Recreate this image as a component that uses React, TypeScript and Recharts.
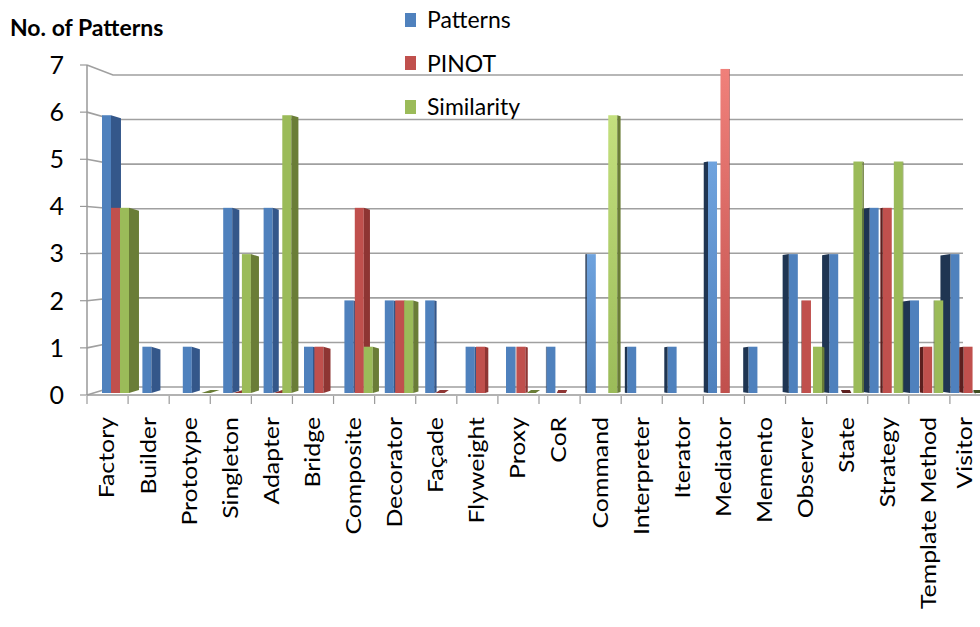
import React from 'react';
import { BarChart, Bar, XAxis, YAxis, CartesianGrid, Legend } from 'recharts';

const categories = [
  'Factory', 'Builder', 'Prototype', 'Singleton', 'Adapter', 'Bridge', 'Composite',
  'Decorator', 'Façade', 'Flyweight', 'Proxy', 'CoR', 'Command', 'Interpreter',
  'Iterator', 'Mediator', 'Memento', 'Observer', 'State', 'Strategy', 'Template Method', 'Visitor',
];
const patternsValues = [6, 1, 1, 4, 4, 1, 2, 2, 2, 1, 1, 1, 3, 1, 1, 5, 1, 3, 3, 4, 2, 3];
const pinotValues = [4, null, null, 0, 0, 1, 4, 2, 0, 1, 1, 0, null, null, null, 7, null, 2, 0, 4, 1, 1];
const similarityValues = [4, null, 0, 3, 6, null, 1, 2, null, null, 0, null, 6, null, null, null, null, 1, 5, 5, 2, 0];
const yTicks = [0, 1, 2, 3, 4, 5, 6, 7];
const seriesNames = ['Patterns', 'PINOT', 'Similarity'];

const data = categories.map((name, i) => ({
  name,
  Patterns: patternsValues[i],
  PINOT: pinotValues[i],
  Similarity: similarityValues[i],
}));

// layout / style constants
const CHART_W = 1010;
const CHART_H = 627;
const PLOT_LEFT = 87;
const PLOT_RIGHT = 991;
const PLOT_TOP = 65;
const PLOT_BOTTOM = 395;
const BACK_TOP = 75;
const BACK_BOTTOM = 387;
const GRID_START = 113;
const GRID_END = 963;
const LABEL_MAX_X = 964;
const BAND = (PLOT_RIGHT - PLOT_LEFT) / categories.length;
const FONT = "Lato, 'Open Sans', sans-serif";

const COLORS: Record<string, { front: string; sideR: string; sideL: string; hi: string }> = {
  Patterns: { front: '#4F81BD', sideR: '#34578A', sideL: '#1F3552', hi: '#6FA3DE' },
  PINOT: { front: '#C0504D', sideR: '#8E3533', sideL: '#5C1F1E', hi: '#F0807A' },
  Similarity: { front: '#9BBB59', sideR: '#6A7D37', sideL: '#3F4E21', hi: '#C4E07E' },
};
// categories drawn with a highlighted (lighter) face in the reference
const HIGHLIGHT = ['Command', 'Mediator'];

const makeShape = (key: string) => (props: any) => {
  const { x, y, width, height, index, payload } = props;
  const c = COLORS[key];
  const v = payload ? payload[key] : null;
  if (v == null || x == null || y == null) return <g />;
  const shift = 8 - 0.69 * index;
  const d = (10.5 - index) * 0.95;
  const x0 = x + shift;
  const w = width;
  const base = y + height;
  const bottom = base - 2;
  if (v === 0) {
    const pts = `${x0},${bottom} ${x0 + w},${bottom} ${x0 + w + d},${bottom - 3} ${x0 + d},${bottom - 3}`;
    return <polygon points={pts} fill={d > 0 ? c.sideR : c.sideL} />;
  }
  const h = height * 0.982;
  const top = bottom - h;
  const hl = HIGHLIGHT.includes(payload.name);
  const gid = `grad-${key}-${index}`;
  let side;
  if (d > 0) {
    const s = 0.3 * d;
    side = (
      <polygon
        points={`${x0 + w},${top} ${x0 + w + d},${top + s} ${x0 + w + d},${bottom - s} ${x0 + w},${bottom}`}
        fill={c.sideR}
      />
    );
  } else {
    const ad = -d;
    const s = 0.15 * ad;
    side = (
      <polygon
        points={`${x0},${top} ${x0 - ad},${top + s} ${x0 - ad},${bottom - s} ${x0},${bottom}`}
        fill={c.sideL}
      />
    );
  }
  return (
    <g>
      {hl && (
        <defs>
          <linearGradient id={gid} x1="0" y1="0" x2="0" y2="1">
            <stop offset="0%" stopColor={c.hi} />
            <stop offset="100%" stopColor={c.front} />
          </linearGradient>
        </defs>
      )}
      <rect x={x0} y={top} width={w} height={h} fill={hl ? `url(#${gid})` : c.front} />
      {side}
    </g>
  );
};

const gridLine = (p: any) => {
  const y1 = p.y1;
  const yb = BACK_BOTTOM - ((PLOT_BOTTOM - y1) * (BACK_BOTTOM - BACK_TOP)) / (PLOT_BOTTOM - PLOT_TOP);
  let d = `M${PLOT_LEFT},${y1} L${GRID_START},${yb} L${GRID_END},${yb}`;
  if (Math.abs(y1 - PLOT_BOTTOM) < 1) {
    d += ` L${GRID_END + 13},${yb + 6}`;
  }
  return <path key={`g-${p.index}`} d={d} stroke="#a0a0a0" strokeWidth={1.6} fill="none" />;
};

const XTick = (props: any) => {
  const { x, payload } = props;
  const tx = x - BAND / 2;
  const lx = Math.min(x - 1.5, LABEL_MAX_X);
  return (
    <g>
      <line x1={tx} y1={PLOT_BOTTOM + 1} x2={tx} y2={PLOT_BOTTOM + 9} stroke="#999" strokeWidth={1.2} />
      <text
        transform={`translate(${lx},${PLOT_BOTTOM + 22}) rotate(-90) scale(1.13,1)`}
        textAnchor="end"
        dominantBaseline="central"
        fontSize={22}
        fontFamily={FONT}
        fill="#000"
      >
        {payload.value}
      </text>
    </g>
  );
};

const renderLegend = () => (
  <div style={{ fontFamily: FONT }}>
    {seriesNames.map((name) => (
      <div key={name} style={{ display: 'flex', alignItems: 'center', height: 43.5, lineHeight: '43.5px' }}>
        <span
          style={{ display: 'inline-block', width: 11, height: 14, background: COLORS[name].front, marginRight: 11 }}
        />
        <span style={{ fontSize: 23, color: '#000' }}>{name}</span>
      </div>
    ))}
  </div>
);

export default function App() {
  return (
    <div
      style={{
        position: 'absolute',
        left: 0,
        top: 0,
        width: 980,
        height: 627,
        overflow: 'hidden',
        background: '#fff',
        fontFamily: FONT,
      }}
    >
      <div
        style={{
          position: 'absolute',
          left: 10,
          top: 14,
          fontSize: 23,
          fontWeight: 700,
          lineHeight: 1.2,
          color: '#000',
          fontFamily: FONT,
          whiteSpace: 'nowrap',
        }}
      >
        No. of Patterns
      </div>
      <BarChart
        width={CHART_W}
        height={CHART_H}
        data={data}
        margin={{ top: PLOT_TOP, right: CHART_W - PLOT_RIGHT, bottom: 0, left: 0 }}
        barGap={0}
        barSize={9}
      >
        <CartesianGrid vertical={false} horizontal={gridLine} />
        <XAxis
          dataKey="name"
          interval={0}
          height={CHART_H - PLOT_BOTTOM}
          tickLine={false}
          axisLine={{ stroke: '#999', strokeWidth: 1.5 }}
          tick={<XTick />}
        />
        <YAxis
          type="number"
          domain={[0, 7]}
          ticks={yTicks}
          interval={0}
          width={PLOT_LEFT}
          tickSize={7}
          tickMargin={16}
          axisLine={{ stroke: '#999', strokeWidth: 1.5 }}
          tickLine={{ stroke: '#999', strokeWidth: 1.2 }}
          tick={{ fontSize: 25, fill: '#000', fontFamily: FONT }}
        />
        <Legend
          layout="vertical"
          align="center"
          verticalAlign="middle"
          content={renderLegend}
          wrapperStyle={{ left: 405, top: -2, width: 200 }}
        />
        {seriesNames.map((key) => (
          <Bar
            key={key}
            dataKey={key}
            name={key}
            fill={COLORS[key].front}
            isAnimationActive={false}
            minPointSize={(v: any) => (v === 0 ? 1 : 0)}
            shape={makeShape(key)}
          />
        ))}
      </BarChart>
    </div>
  );
}
